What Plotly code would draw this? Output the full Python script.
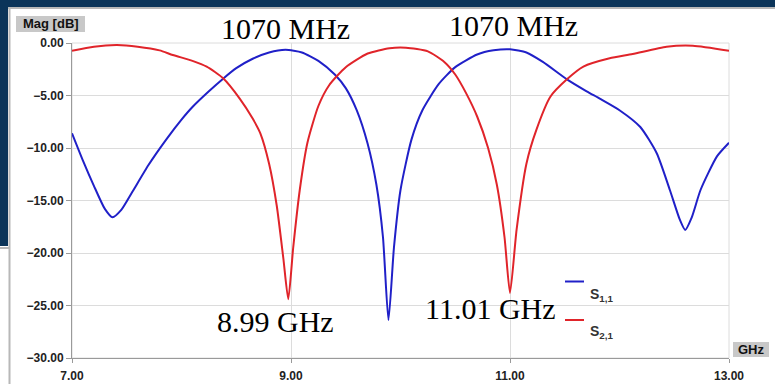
import plotly.graph_objects as go

# ---------------- data ----------------
s11_freq = [7.00, 7.10, 7.20, 7.30, 7.37, 7.45, 7.55, 7.70, 7.86, 8.00, 8.10, 8.25, 8.38, 8.50,
            8.65, 8.80, 8.95, 9.10, 9.25, 9.40, 9.50, 9.60, 9.70, 9.78, 9.84, 9.89, 9.94, 10.00,
            10.10, 10.20, 10.35, 10.50, 10.70, 10.85, 11.00, 11.15, 11.30, 11.52, 11.70, 11.82,
            12.00, 12.19, 12.34, 12.46, 12.55, 12.60, 12.66, 12.74, 12.89, 13.00]
s11_db = [-8.6, -11.2, -13.6, -15.8, -16.6, -15.9, -14.2, -11.6, -9.2, -7.3, -6.1, -4.6, -3.4, -2.4,
          -1.5, -0.9, -0.65, -0.9, -1.7, -3.0, -4.3, -6.4, -9.6, -13.5, -18.5, -26.4, -19.5, -14.0,
          -9.2, -6.4, -3.9, -2.3, -1.1, -0.7, -0.6, -0.9, -1.8, -3.46, -4.6, -5.3,
          -6.4, -8.0, -10.5, -14.0, -16.8, -17.8, -16.6, -14.0, -10.8, -9.5]

s21_freq = [7.00, 7.20, 7.41, 7.60, 7.80, 7.92, 8.10, 8.23, 8.38, 8.53, 8.65, 8.72, 8.80, 8.87,
            8.93, 8.975, 9.02, 9.08, 9.15, 9.25, 9.35, 9.50, 9.70, 9.90, 10.05, 10.25, 10.40,
            10.50, 10.60, 10.70, 10.80, 10.88, 10.95, 11.00, 11.06, 11.15, 11.24, 11.37, 11.52,
            11.67, 11.91, 12.12, 12.43, 12.67, 13.00]
s21_db = [-0.73, -0.35, -0.2, -0.35, -0.7, -1.14, -1.7, -2.25, -3.36, -5.27, -7.2, -8.6, -11.5, -15.5,
          -20.5, -24.4, -19.5, -14.0, -9.5, -6.0, -4.0, -2.3, -1.0, -0.5, -0.45, -0.8, -1.8,
          -3.0, -4.8, -7.0, -10.0, -13.5, -18.5, -23.8, -17.8, -11.5, -8.3, -5.1, -3.46,
          -2.25, -1.46, -1.05, -0.35, -0.25, -0.73]

series_names = ["S<sub>1,1</sub>", "S<sub>2,1</sub>"]
x_ticks = [7, 9, 11, 13]
y_ticks = [0, -5, -10, -15, -20, -25, -30]
peak_labels = ["1070 MHz", "1070 MHz"]
dip_labels = ["8.99 GHz", "11.01 GHz"]

# ---------------- layout helpers ----------------
W, H = 775, 384
L, R, T, B = 72, 46, 43, 26
PW, PH = W - L - R, H - T - B


def px(x):
    return (x - L) / PW


def py(y):
    return (H - B - y) / PH


BLUE = "#2020c8"
RED = "#e0242a"
NAVY = "#0b3459"

fig = go.Figure()
fig.add_trace(go.Scatter(x=s11_freq, y=s11_db, mode="lines", name=series_names[0],
                         line=dict(color=BLUE, width=2), line_shape="spline",
                         line_smoothing=0.6))
fig.add_trace(go.Scatter(x=s21_freq, y=s21_db, mode="lines", name=series_names[1],
                         line=dict(color=RED, width=2), line_shape="spline",
                         line_smoothing=0.6))

tickfont = dict(family="Liberation Sans", size=12, color="#222222", weight="bold")

fig.update_layout(
    width=W, height=H,
    margin=dict(l=L, r=R, t=T, b=B, autoexpand=False),
    paper_bgcolor="white", plot_bgcolor="white",
    showlegend=False,
    xaxis=dict(range=[7, 13], tickvals=x_ticks, tickformat=".2f", showgrid=True,
               gridcolor="#dcdcdc", gridwidth=1, showline=True, linecolor="#9a9a9a",
               linewidth=1, ticks="outside", ticklen=4, tickcolor="#9a9a9a",
               tickfont=tickfont, zeroline=False, ticklabelstandoff=3, automargin=False),
    yaxis=dict(range=[-30, 0], tickvals=y_ticks, tickformat=".2f", showgrid=True,
               gridcolor="#dcdcdc", gridwidth=1, showline=True, linecolor="#9a9a9a",
               linewidth=1, ticks="outside", ticklen=5, tickcolor="#9a9a9a",
               tickfont=tickfont, zeroline=False, automargin=False),
)

shapes = []
# plot frame (top/right)
shapes.append(dict(type="rect", xref="paper", yref="paper", x0=0, y0=0, x1=1, y1=1,
                   line=dict(color="#dcdcdc", width=1), layer="below"))
# slide background decoration
shapes.append(dict(type="rect", xref="paper", yref="paper", x0=px(0), x1=px(W), y0=py(0), y1=py(7),
                   fillcolor=NAVY, line=dict(width=0)))
shapes.append(dict(type="rect", xref="paper", yref="paper", x0=px(0), x1=px(8), y0=py(0), y1=py(246),
                   fillcolor=NAVY, line=dict(width=0)))
shapes.append(dict(type="line", xref="paper", yref="paper", x0=px(8), x1=px(W), y0=py(8), y1=py(8),
                   line=dict(color="#b8b8b8", width=2)))
shapes.append(dict(type="line", xref="paper", yref="paper", x0=px(9.5), x1=px(9.5), y0=py(8), y1=py(H),
                   line=dict(color="#b8b8b8", width=2)))
shapes.append(dict(type="line", xref="paper", yref="paper", x0=px(0), x1=px(9), y0=py(248), y1=py(248),
                   line=dict(color="#b8b8b8", width=2)))
# label boxes
shapes.append(dict(type="rect", xref="paper", yref="paper", x0=px(16), x1=px(85), y0=py(32), y1=py(16),
                   fillcolor="#c8c8c8", line=dict(width=0)))
shapes.append(dict(type="rect", xref="paper", yref="paper", x0=px(733), x1=px(769), y0=py(357), y1=py(342),
                   fillcolor="#c8c8c8", line=dict(width=0)))
# legend line samples
shapes.append(dict(type="line", xref="paper", yref="paper", x0=px(565), x1=px(584), y0=py(281.5), y1=py(281.5),
                   line=dict(color=BLUE, width=2)))
shapes.append(dict(type="line", xref="paper", yref="paper", x0=px(565), x1=px(584), y0=py(320), y1=py(320),
                   line=dict(color=RED, width=2)))
fig.update_layout(shapes=shapes)

ann = []
lab = dict(family="Liberation Sans", size=13, color="#111111", weight="bold")
ann.append(dict(xref="paper", yref="paper", x=px(50.5), y=py(24), text="Mag [dB]", showarrow=False,
                font=lab, xanchor="center", yanchor="middle"))
ann.append(dict(xref="paper", yref="paper", x=px(751), y=py(349.5), text="GHz", showarrow=False,
                font=lab, xanchor="center", yanchor="middle"))
leg = dict(family="Liberation Sans", size=14, color="#333333", weight="bold")
ann.append(dict(xref="paper", yref="paper", x=px(588), y=py(295), text=series_names[0], showarrow=False,
                font=leg, xanchor="left", yanchor="middle"))
ann.append(dict(xref="paper", yref="paper", x=px(588), y=py(332), text=series_names[1], showarrow=False,
                font=leg, xanchor="left", yanchor="middle"))
serif = dict(family="Liberation Serif", size=30, color="black")
ann.append(dict(xref="paper", yref="paper", x=px(285), y=py(29), text=peak_labels[0], showarrow=False,
                font=serif, xanchor="center", yanchor="middle"))
ann.append(dict(xref="paper", yref="paper", x=px(513), y=py(26), text=peak_labels[1], showarrow=False,
                font=serif, xanchor="center", yanchor="middle"))
ann.append(dict(xref="paper", yref="paper", x=px(275), y=py(321), text=dip_labels[0], showarrow=False,
                font=serif, xanchor="center", yanchor="middle"))
ann.append(dict(xref="paper", yref="paper", x=px(490), y=py(308), text=dip_labels[1], showarrow=False,
                font=serif, xanchor="center", yanchor="middle"))
fig.update_layout(annotations=ann)

fig.write_html("out.html")
